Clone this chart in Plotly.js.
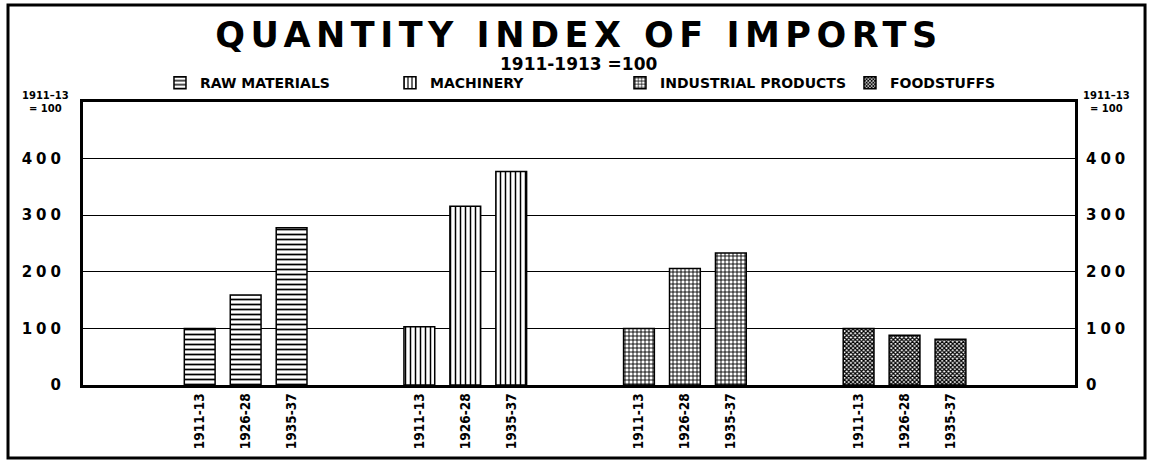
<!DOCTYPE html>
<html><head><meta charset="utf-8">
<script src="https://cdn.plot.ly/plotly-3.0.1.min.js"></script>
<style>
html,body{margin:0;padding:0;background:#fff;}
#chart{width:1149px;height:463px;}
.gtitle{letter-spacing:5.5px;}
.ytick text,.y2tick text{letter-spacing:4px;}
</style></head>
<body><div id="chart"></div>
<script>
// ---- data ----
const groups = ["RAW MATERIALS", "MACHINERY", "INDUSTRIAL PRODUCTS", "FOODSTUFFS"];
const periods = ["1911-13", "1926-28", "1935-37"];
const rawMaterials = [100, 159, 278];
const machinery = [103, 316, 377];
const industrialProducts = [100, 206, 233];
const foodstuffs = [100, 88, 81];
const yTickVals = [0, 100, 200, 300, 400];
const yTickText = ["0", "100", "200", "300", "400"];
const baseLabel = "1911–13<br>= 100";

// ---- layout constants ----
const GROUP_STEP = 4.78;
const seriesValues = [rawMaterials, machinery, industrialProducts, foodstuffs];
const patterns = [
  {shape: "-", size: 5, solidity: 0.35},
  {shape: "|", size: 5, solidity: 0.3},
  {shape: "+", size: 4, solidity: 0.4},
  {shape: "x", size: 3, solidity: 0.65}
];
const FONT = "DejaVu Sans, sans-serif";

const traces = [];
const tickvals = [], ticktext = [];
groups.forEach((g, gi) => {
  const xs = periods.map((p, pi) => gi * GROUP_STEP + pi);
  xs.forEach((x, i) => { tickvals.push(x); ticktext.push(periods[i]); });
  traces.push({
    type: "bar", name: g, x: xs, y: seriesValues[gi], width: 0.67,
    marker: {color: "white", line: {color: "black", width: 1.5},
      pattern: Object.assign({fgcolor: "black", bgcolor: "white"}, patterns[gi])},
    hoverinfo: "y"
  });
});
traces.push({type: "scatter", x: [null], y: [null], yaxis: "y2", showlegend: false, hoverinfo: "skip"});

const tickFont = {family: FONT, size: 15, color: "black", weight: "bold"};
const layout = {
  width: 1149, height: 463,
  margin: {l: 83, r: 74, t: 102, b: 78},
  paper_bgcolor: "white", plot_bgcolor: "white",
  title: {text: "QUANTITY INDEX OF IMPORTS", x: 0.5, xref: "paper", y: 0.925, yanchor: "middle",
    font: {family: FONT, size: 35, color: "black", weight: "bold"}},
  showlegend: true,
  legend: {orientation: "h", x: 0.0776, xanchor: "left", y: 1.067, yanchor: "middle",
    entrywidth: 185, entrywidthmode: "pixels", traceorder: "normal",
    font: {family: FONT, size: 14, color: "black", weight: "bold"}, itemwidth: 30},
  bargap: 0,
  xaxis: {range: [-2.54, 3 * GROUP_STEP + 2 + 2.71], tickvals: tickvals, ticktext: ticktext,
    tickangle: -90, showgrid: false, zeroline: false, showline: true, linewidth: 3, linecolor: "black",
    mirror: true, ticks: "", ticklen: 0,
    tickfont: {family: "DejaVu Sans Condensed, DejaVu Sans, sans-serif", size: 13.5, color: "black", weight: "bold"}},
  yaxis: {range: [0, 500], tickvals: yTickVals, ticktext: yTickText, showgrid: true, gridcolor: "black",
    gridwidth: 1, zeroline: false, showline: true, linewidth: 3, linecolor: "black", mirror: true,
    ticks: "", ticklabelstandoff: 12, tickfont: tickFont},
  yaxis2: {range: [0, 500], overlaying: "y", side: "right", tickvals: yTickVals, ticktext: yTickText,
    showgrid: false, zeroline: false, showline: false, ticks: "", ticklabelstandoff: 10, tickfont: tickFont},
  annotations: [
    {text: "1911-1913 =100", xref: "paper", yref: "paper", x: 0.5, y: 1.133, yanchor: "middle", showarrow: false,
      borderpad: 0, font: {family: FONT, size: 17, color: "black", weight: "bold"}},
    {text: baseLabel, xref: "paper", yref: "paper", x: -0.038, y: 1.0, xanchor: "center", yanchor: "middle",
      showarrow: false, font: {family: FONT, size: 10, color: "black", weight: "bold"}},
    {text: baseLabel, xref: "paper", yref: "paper", x: 1.032, y: 1.0, xanchor: "center", yanchor: "middle",
      showarrow: false, font: {family: FONT, size: 10, color: "black", weight: "bold"}}
  ],
  shapes: [
    {type: "rect", xref: "paper", yref: "paper", x0: -0.0756, x1: 1.0706, y0: -0.258, y1: 1.3428,
      line: {color: "black", width: 3}}
  ]
};
Plotly.newPlot("chart", traces, layout, {staticPlot: true});
</script></body></html>
